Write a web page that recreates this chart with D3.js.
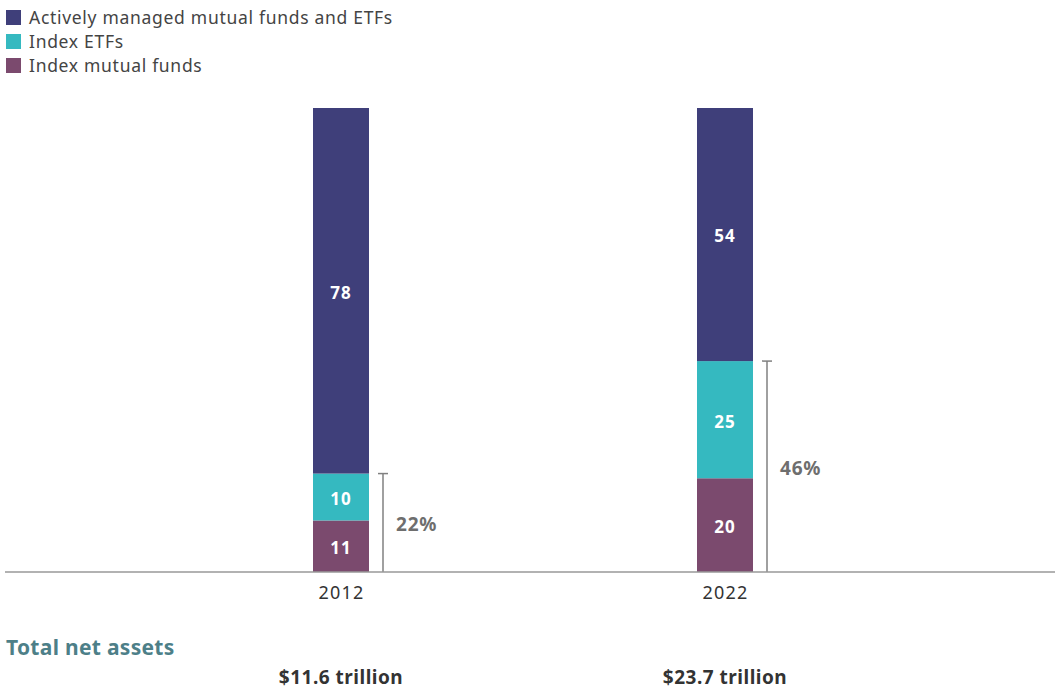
<!DOCTYPE html>
<html>
<head>
<meta charset="utf-8">
<script src="https://cdn.jsdelivr.net/npm/d3@7"></script>
<style>
  body { margin: 0; background: #fff; }
  svg text { font-family: "Noto Sans", sans-serif; }
</style>
</head>
<body>
<div id="chart"></div>
<script>
// data
let years = ["2012", "2022"]
let seriesNames = ["Index mutual funds", "Index ETFs", "Actively managed mutual funds and ETFs"]
let indexMutual = [11, 20]
let indexETFs = [10, 25]
let active = [78, 54]
let indexShare = ["22%", "46%"]
let totalAssets = ["$11.6 trillion", "$23.7 trillion"]
let colors = ["#7b4a6e", "#35b9c0", "#3f3f7a"]
let legendOrder = [2, 1, 0]

let width = 1055
let height = 689
let baseY = 572
let topY = 108

let svg = d3.select("#chart").append("svg")
  .attr("width", width)
  .attr("height", height)

let rows = years.map((y, i) => ({ year: y, im: indexMutual[i], etf: indexETFs[i], act: active[i] }))
let stack = d3.stack().keys(["im", "etf", "act"])(rows)

let xscale = d3.scalePoint().domain(years).range([149, 917]).padding(0.5)
let yscale = d3.scaleLinear()
  .domain([0, d3.max(rows, d => d.im + d.etf + d.act)])
  .range([baseY, topY])
let barWidth = 56

// legend
legendOrder.forEach((k, i) => {
  let g = svg.append("g").attr("transform", `translate(6, ${10 + i * 24})`)
  g.append("rect").attr("width", 15).attr("height", 15).attr("fill", colors[k])
  g.append("text").attr("x", 23).attr("y", 14)
    .attr("font-size", 17.5).attr("letter-spacing", 0.7).attr("fill", "#444").text(seriesNames[k])
})

// bars
stack.forEach((layer, k) => {
  layer.forEach((d, i) => {
    let cx = xscale(years[i])
    svg.append("rect")
      .attr("x", cx - barWidth / 2)
      .attr("y", yscale(d[1]))
      .attr("width", barWidth)
      .attr("height", yscale(d[0]) - yscale(d[1]))
      .attr("fill", colors[k])
    svg.append("text")
      .attr("x", cx)
      .attr("y", (yscale(d[0]) + yscale(d[1])) / 2 + 2)
      .attr("dy", "0.35em")
      .attr("text-anchor", "middle")
      .attr("font-size", 17).attr("font-weight", "bold").attr("letter-spacing", 1).attr("fill", "#fff")
      .text(d[1] - d[0])
  })
})

// bracket showing index share
rows.forEach((d, i) => {
  let lx = xscale(years[i]) + 42
  let top = yscale(d.im + d.etf)
  svg.append("line").attr("x1", lx).attr("x2", lx).attr("y1", top).attr("y2", baseY)
    .attr("stroke", "#808080").attr("stroke-width", 1.5)
  svg.append("line").attr("x1", lx - 5).attr("x2", lx + 5).attr("y1", top).attr("y2", top)
    .attr("stroke", "#808080").attr("stroke-width", 1.5)
  svg.append("text")
    .attr("x", lx + 13)
    .attr("y", (top + baseY) / 2 + 2)
    .attr("dy", "0.35em")
    .attr("font-size", 19).attr("font-weight", "bold").attr("letter-spacing", 0.8).attr("fill", "#6e6e6e")
    .text(indexShare[i])
})

// x axis
let x_axis = d3.axisBottom(xscale).tickSize(0).tickPadding(14)
let ax = svg.append("g").attr("transform", `translate(0, ${baseY})`).call(x_axis)
ax.select(".domain").attr("d", `M5,0H${width}`).attr("stroke", "#999").attr("stroke-width", 1.5)
ax.selectAll("text").attr("font-size", 18).attr("letter-spacing", 1.2).attr("fill", "#333")
  .attr("font-family", "Noto Sans, sans-serif")

// totals
svg.append("text").attr("x", 6).attr("y", 655)
  .attr("font-size", 21).attr("font-weight", "bold").attr("letter-spacing", 0.3).attr("fill", "#4d7f88")
  .text("Total net assets")
years.forEach((y, i) => {
  svg.append("text").attr("x", xscale(y)).attr("y", 684)
    .attr("text-anchor", "middle")
    .attr("font-size", 19).attr("font-weight", "bold").attr("letter-spacing", 0.5).attr("fill", "#333")
    .text(totalAssets[i])
})
</script>
</body>
</html>
